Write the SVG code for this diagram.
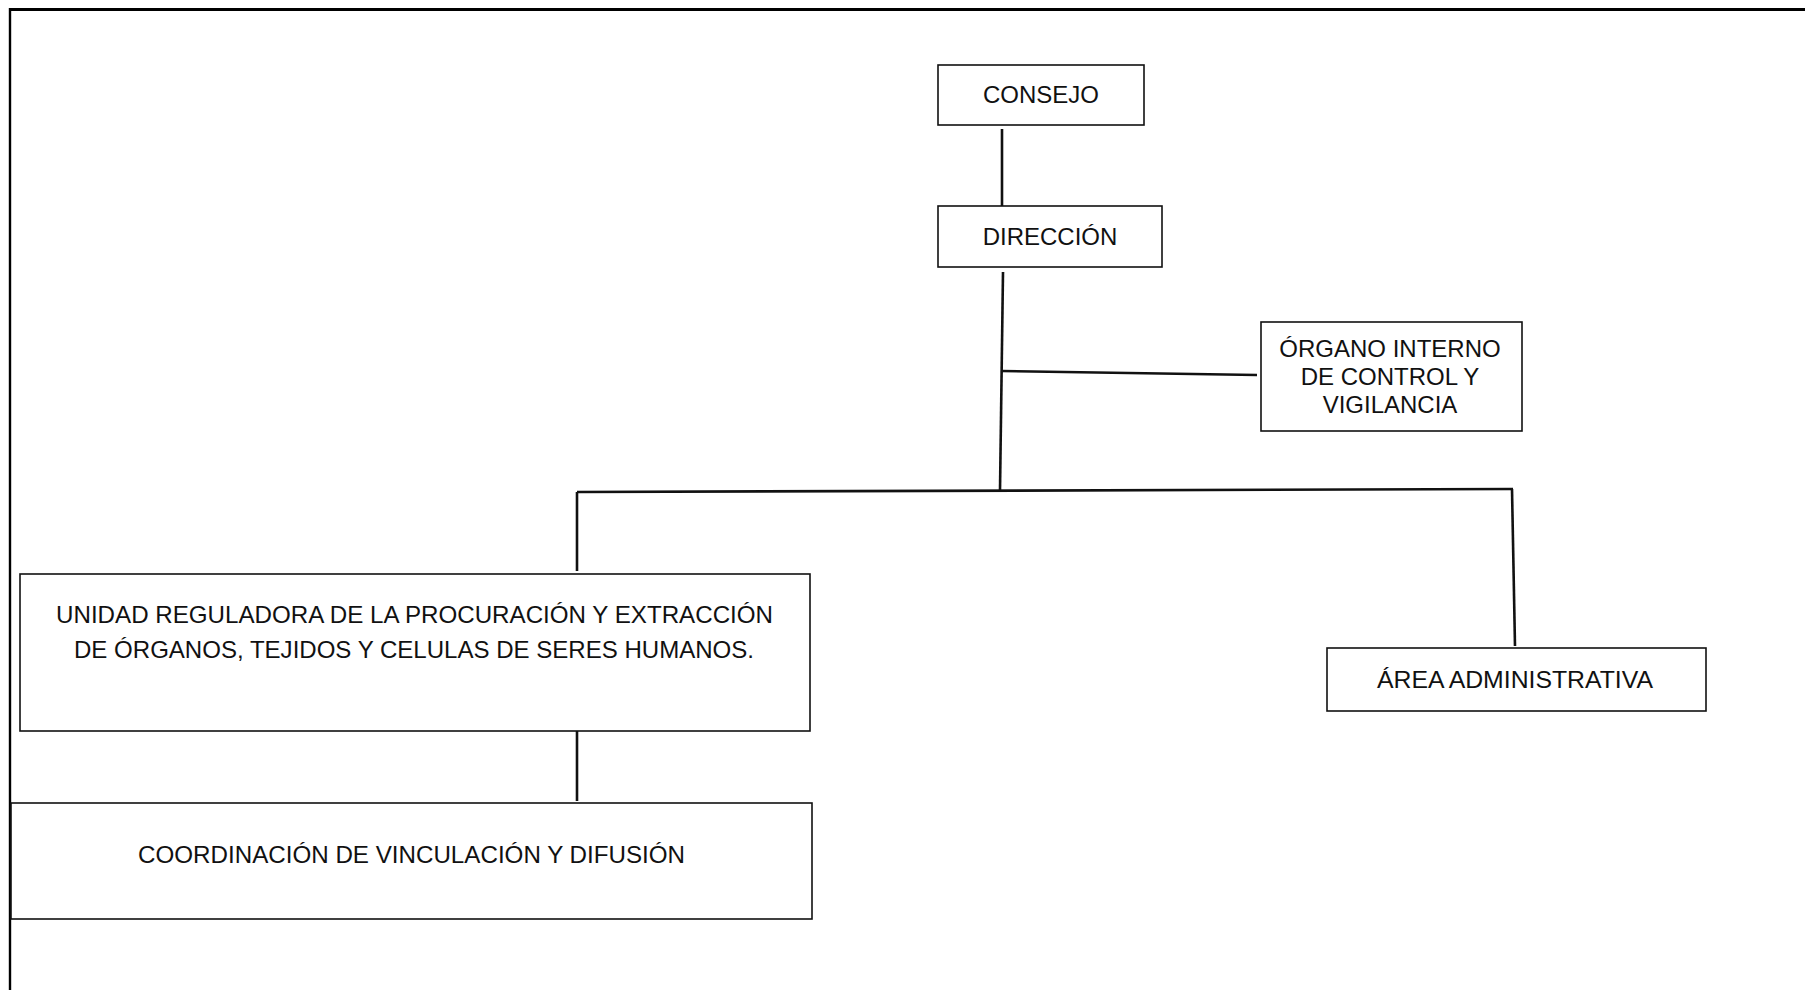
<svg xmlns="http://www.w3.org/2000/svg" width="1805" height="990" viewBox="0 0 1805 990">
  <style>
    .box { fill: #ffffff; stroke: #111111; stroke-width: 1.6; }
    .lbl { font-family: "Liberation Sans", Arial, sans-serif; font-size: 24px; fill: #111111; }
    .con { stroke: #111111; stroke-width: 2.6; fill: none; }
    .frame { stroke: #000000; fill: none; }
  </style>
  <rect x="0" y="0" width="1805" height="990" fill="#ffffff"/>
  <g id="frame">
    <line class="frame" x1="9" y1="9.5" x2="1805" y2="9.5" stroke-width="3.2"/>
    <line class="frame" x1="10" y1="8" x2="10" y2="990" stroke-width="2.4"/>
  </g>
  <g id="connectors">
    <line class="con" x1="1002" y1="129" x2="1002" y2="206"/>
    <line class="con" x1="1003" y1="272" x2="1000" y2="490"/>
    <line class="con" x1="1002" y1="371" x2="1257" y2="375"/>
    <line class="con" x1="577" y1="492" x2="1513" y2="489"/>
    <line class="con" x1="577" y1="492" x2="577" y2="571"/>
    <line class="con" x1="1512" y1="489" x2="1515" y2="646"/>
    <line class="con" x1="577" y1="731" x2="577" y2="801"/>
  </g>
  <g id="consejo">
    <rect class="box" x="938" y="65" width="206" height="60"/>
    <text class="lbl" x="1041" y="103" text-anchor="middle">CONSEJO</text>
  </g>
  <g id="direccion">
    <rect class="box" x="938" y="206" width="224" height="61"/>
    <text class="lbl" x="1050" y="245" text-anchor="middle">DIRECCIÓN</text>
  </g>
  <g id="organo">
    <rect class="box" x="1261" y="322" width="261" height="109"/>
    <text class="lbl" x="1390" y="357" text-anchor="middle">ÓRGANO INTERNO</text>
    <text class="lbl" x="1390" y="385" text-anchor="middle">DE CONTROL Y</text>
    <text class="lbl" x="1390" y="413" text-anchor="middle">VIGILANCIA</text>
  </g>
  <g id="unidad">
    <rect class="box" x="20" y="574" width="790" height="157"/>
    <text class="lbl" x="56" y="623" textLength="717" lengthAdjust="spacingAndGlyphs">UNIDAD REGULADORA DE LA PROCURACIÓN Y  EXTRACCIÓN</text>
    <text class="lbl" x="74" y="658" textLength="680" lengthAdjust="spacingAndGlyphs">DE ÓRGANOS, TEJIDOS Y CELULAS DE SERES HUMANOS.</text>
  </g>
  <g id="coordinacion">
    <rect class="box" x="11" y="803" width="801" height="116"/>
    <text class="lbl" x="138" y="863" textLength="547" lengthAdjust="spacingAndGlyphs">COORDINACIÓN DE VINCULACIÓN Y DIFUSIÓN</text>
  </g>
  <g id="area">
    <rect class="box" x="1327" y="648" width="379" height="63"/>
    <text class="lbl" x="1377" y="688" textLength="276" lengthAdjust="spacingAndGlyphs">ÁREA ADMINISTRATIVA</text>
  </g>
</svg>
